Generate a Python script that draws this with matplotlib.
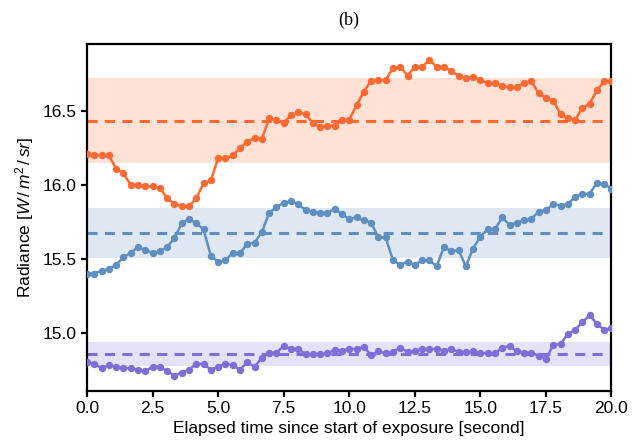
import numpy as np
import matplotlib.pyplot as plt

plt.rcParams['font.family'] = ['Liberation Sans', 'DejaVu Sans']
plt.rcParams['mathtext.fontset'] = 'custom'
plt.rcParams['mathtext.rm'] = 'Liberation Sans'
plt.rcParams['mathtext.it'] = 'Liberation Sans:italic'

# sample times over the 20 s exposure
t = np.linspace(0, 20, 73)

orange = [16.21, 16.20, 16.20, 16.20, 16.11, 16.08, 16.00, 16.00, 15.99, 15.99,
          15.98, 15.91, 15.87, 15.855, 15.855, 15.91, 16.01, 16.03, 16.18, 16.18,
          16.20, 16.25, 16.29, 16.32, 16.31, 16.45, 16.44, 16.42, 16.47, 16.49,
          16.48, 16.42, 16.39, 16.40, 16.40, 16.44, 16.44, 16.54, 16.63, 16.705,
          16.71, 16.71, 16.79, 16.80, 16.74, 16.80, 16.80, 16.845, 16.80, 16.80,
          16.77, 16.74, 16.72, 16.73, 16.71, 16.69, 16.69, 16.67, 16.66, 16.66,
          16.69, 16.70, 16.62, 16.59, 16.57, 16.48, 16.45, 16.44, 16.52, 16.55,
          16.64, 16.70, 16.70]

blue = [15.40, 15.40, 15.42, 15.43, 15.46, 15.51, 15.54, 15.58, 15.56, 15.54,
        15.55, 15.58, 15.64, 15.74, 15.77, 15.74, 15.70, 15.52, 15.48, 15.49,
        15.54, 15.54, 15.60, 15.61, 15.68, 15.81, 15.85, 15.88, 15.89, 15.87,
        15.83, 15.82, 15.81, 15.81, 15.84, 15.80, 15.77, 15.78, 15.76, 15.745,
        15.645, 15.645, 15.49, 15.46, 15.48, 15.46, 15.49, 15.49, 15.45, 15.58,
        15.55, 15.56, 15.45, 15.57, 15.65, 15.70, 15.70, 15.78, 15.73, 15.745,
        15.76, 15.77, 15.82, 15.83, 15.87, 15.86, 15.87, 15.92, 15.94, 15.94,
        16.015, 16.005, 15.975]

purple = [14.80, 14.79, 14.76, 14.78, 14.77, 14.76, 14.76, 14.75, 14.74, 14.77,
          14.77, 14.74, 14.71, 14.73, 14.75, 14.79, 14.79, 14.75, 14.77, 14.79,
          14.78, 14.75, 14.80, 14.77, 14.83, 14.865, 14.865, 14.91, 14.89, 14.89,
          14.855, 14.855, 14.855, 14.86, 14.885, 14.88, 14.89, 14.89, 14.905, 14.85,
          14.875, 14.86, 14.87, 14.90, 14.87, 14.88, 14.89, 14.89, 14.89, 14.88,
          14.89, 14.87, 14.87, 14.875, 14.865, 14.86, 14.86, 14.90, 14.91, 14.875,
          14.865, 14.865, 14.845, 14.825, 14.915, 14.925, 14.99, 15.02, 15.07, 15.12,
          15.06, 15.02, 15.03]

# mean level and 1-sigma spread of each series
means = [16.435, 15.677, 14.855]
stds = [0.29, 0.168, 0.083]
colors = ['#ff6a33', '#5f8ec0', '#806ed8']

fig = plt.figure(figsize=(6.43, 4.45), dpi=100)
ax = fig.add_axes([0.1353, 0.122, 0.8157, 0.779])

for y, m, s, c in zip([orange, blue, purple], means, stds, colors):
    ax.axhspan(m - s, m + s, color=c, alpha=0.2, lw=0, zorder=1)
    ax.axhline(m, color=c, lw=2.2, dashes=(3.3, 2.4), zorder=2)
    ax.plot(t, y, color=c, lw=1.8, marker='o', ms=4.3, zorder=3)

ax.set_xlim(0, 20)
ax.set_ylim(14.608, 16.953)
ax.set_xticks(np.arange(0, 20.1, 2.5))
ax.set_yticks([15.0, 15.5, 16.0, 16.5])
ax.xaxis.set_major_formatter(plt.FormatStrFormatter('%.1f'))
ax.yaxis.set_major_formatter(plt.FormatStrFormatter('%.1f'))

for sp in ax.spines.values():
    sp.set_linewidth(1.6)
ax.tick_params(width=1.6, length=4.5, labelsize=12.5, pad=3)

ax.set_xlabel('Elapsed time since start of exposure [second]', fontsize=12.5, labelpad=3.5)
ax.set_ylabel(r'Radiance [$W\,/\,m^2\,/\,sr$]', fontsize=12.5, labelpad=5)
ax.set_title('(b)', fontsize=13, family='Liberation Serif', pad=14)

fig.savefig('out.png', dpi=100)
